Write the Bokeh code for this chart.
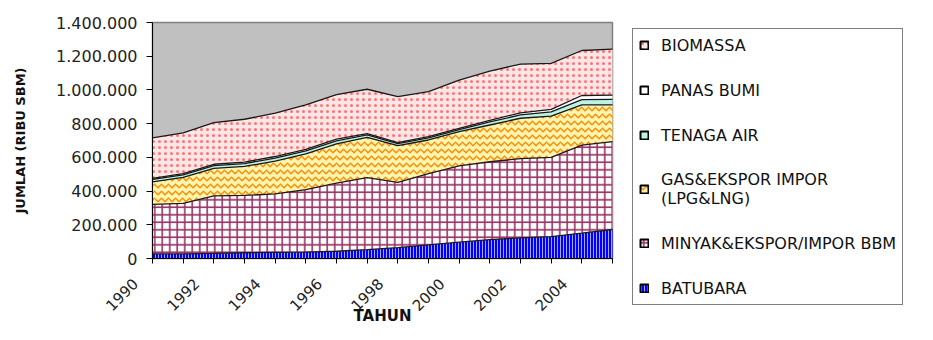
from math import pi
from bokeh.plotting import figure
from bokeh.models import ColumnDataSource, Range1d, FixedTicker, Legend, LegendItem
from bokeh.transform import stack
from bokeh.embed import file_html
from bokeh.resources import INLINE

# ---------------- data (RIBU SBM) ----------------
years = [1990, 1991, 1992, 1993, 1994, 1995, 1996, 1997,
         1998, 1999, 2000, 2001, 2002, 2003, 2004, 2005]
batubara = [27000, 28000, 30000, 34000, 36000, 38000, 43000, 53000,
            65000, 81000, 97000, 112000, 122000, 130000, 150000, 172000]
minyak = [294000, 299000, 342000, 340000, 347000, 370000, 404000, 427000,
          387000, 422000, 453000, 462000, 470000, 470000, 523000, 521000]
gas = [134000, 154000, 163000, 172000, 195000, 212000, 233000, 239000,
       217000, 200000, 202000, 218000, 240000, 245000, 238000, 218000]
tenaga_air = [14000, 15000, 16000, 17000, 18000, 18000, 18000, 15000,
              12000, 13000, 13000, 18000, 20000, 25000, 32000, 33000]
panas_bumi = [6000, 7000, 8000, 9000, 9000, 10000, 10000, 7000,
              6000, 7000, 7000, 10000, 12000, 15000, 24000, 25000]
biomassa = [240000, 242000, 247000, 254000, 257000, 264000, 264000, 263000,
            273000, 267000, 286000, 292000, 289000, 273000, 267000, 273000]

series = ["batubara", "minyak", "gas", "tenaga_air", "panas_bumi", "biomassa"]
series_labels = ["BATUBARA", "MINYAK&EKSPOR/IMPOR BBM", "GAS&EKSPOR IMPOR\n(LPG&LNG)",
                 "TENAGA AIR", "PANAS BUMI", "BIOMASSA"]
y_ticks = [0, 200000, 400000, 600000, 800000, 1000000, 1200000, 1400000]
y_tick_labels = ["0", "200.000", "400.000", "600.000", "800.000",
                 "1.000.000", "1.200.000", "1.400.000"]
x_label_years = [1990, 1992, 1994, 1996, 1998, 2000, 2002, 2004]

source = ColumnDataSource(dict(x=years, batubara=batubara, minyak=minyak, gas=gas,
                               tenaga_air=tenaga_air, panas_bumi=panas_bumi,
                               biomassa=biomassa))

styles = {
    "batubara":   dict(fill_color="#0000FF", hatch_pattern="vertical_line", hatch_color="#A8A8FF", hatch_scale=3, hatch_weight=1),
    "minyak":     dict(fill_color="#FFFFFF", hatch_pattern="cross", hatch_color="#993366", hatch_scale=7.5, hatch_weight=1.6),
    "gas":        dict(fill_color="#FFF5B0", hatch_pattern="horizontal_wave", hatch_color="#FF8A00", hatch_scale=7, hatch_weight=1.3),
    "tenaga_air": dict(fill_color="#BDF3E4", hatch_pattern=None, hatch_color="#339966", hatch_scale=6, hatch_weight=1),
    "panas_bumi": dict(fill_color="#FFFFFF", hatch_pattern=None, hatch_color="#993399", hatch_scale=6, hatch_weight=1),
    "biomassa":   dict(fill_color="#FFE6E6", hatch_pattern="dot", hatch_color="#FF7373", hatch_scale=6, hatch_weight=4),
}

# ---------------- layout geometry (pixels) ----------------
FIG_W, FIG_H = 917, 324
LEFT, TOP = 152, 22            # plot area's top-left corner on the canvas
PLOT_W, PLOT_H = 460, 236      # plot area size
x0, x1 = years[0], years[-1]
y0, y1 = y_ticks[0], y_ticks[-1]
ux = (x1 - x0) / PLOT_W        # data units per pixel
uy = (y1 - y0) / PLOT_H

p = figure(width=FIG_W, height=FIG_H, output_backend="svg", toolbar_location=None,
           x_range=Range1d(x0 - LEFT * ux, x0 + (FIG_W - LEFT) * ux),
           y_range=Range1d(y1 - (FIG_H - TOP) * uy, y1 + TOP * uy),
           min_border_left=0, min_border_right=0, min_border_top=0,
           min_border_bottom=0)
p.background_fill_color = "white"
p.border_fill_color = "white"
p.outline_line_color = None
p.xgrid.visible = False
p.ygrid.visible = False

# plot-area background (grey) with grey border
p.quad(left=[x0], right=[x1], bottom=[y0], top=[y1], fill_color="#C0C0C0",
       line_color="#808080", line_width=1.5)

for i, name in enumerate(series):
    p.varea(x="x", y1=stack(*series[:i]) if i else 0, y2=stack(*series[:i + 1]),
            source=source, **styles[name])

for i in range(len(series)):
    p.line(x="x", y=stack(*series[:i + 1]), source=source,
           line_color="#1a1a1a", line_width=1.3)

# ---------------- axes ----------------
yax = p.yaxis[0]
yax.fixed_location = x0
yax.bounds = (y0, y1)
yax.ticker = FixedTicker(ticks=y_ticks)
yax.major_label_overrides = dict(zip(y_ticks, y_tick_labels))
yax.major_label_text_font = "DejaVu Sans"
yax.major_label_text_font_size = "16px"
yax.major_label_text_color = "#222222"
yax.major_label_standoff = 9
yax.major_tick_out = 6
yax.major_tick_in = 0
yax.minor_tick_line_color = None
yax.axis_line_color = "black"
yax.major_tick_line_color = "black"
yax.axis_label = "JUMLAH (RIBU SBM)"
yax.axis_label_text_font = "DejaVu Sans"
yax.axis_label_text_font_size = "13px"
yax.axis_label_text_font_style = "bold"
yax.axis_label_text_color = "#111111"
yax.axis_label_standoff = 25

pad = "\u00a0" * 5
xax = p.xaxis[0]
xax.fixed_location = y0
xax.bounds = (x0, x1)
xax.ticker = FixedTicker(ticks=years)
xax.major_label_overrides = {y: (str(y) + pad if y in x_label_years else "") for y in years}
xax.major_label_orientation = pi / 4
xax.major_label_text_font = "DejaVu Sans"
xax.major_label_text_font_size = "15px"
xax.major_label_text_color = "#222222"
xax.major_label_standoff = 1
xax.major_tick_out = 5
xax.major_tick_in = 0
xax.minor_tick_line_color = None
xax.axis_line_color = "black"
xax.major_tick_line_color = "black"
xax.axis_label = "TAHUN"
xax.axis_label_text_font = "DejaVu Sans"
xax.axis_label_text_font_size = "15px"
xax.axis_label_text_font_style = "bold"
xax.axis_label_text_color = "#111111"
xax.axis_label_standoff = -17

# ---------------- legend ----------------
items = []
for name, lab in zip(series, series_labels):
    r = p.rect(x="x", y=name, width=1, height=1, source=source, visible=False,
               line_color="black", line_width=2, **styles[name])
    items.append(LegendItem(label=lab, renderers=[r]))
items.reverse()

legend = Legend(items=items, location=(632, 19), orientation="vertical",
                label_text_font="DejaVu Sans", label_text_font_size="16px",
                label_text_color="#111111", border_line_color="black",
                border_line_width=1, background_fill_color="white",
                background_fill_alpha=1, padding=6, spacing=25, label_height=20,
                glyph_height=10, glyph_width=10, label_standoff=12, margin=0,
                click_policy="none")
p.add_layout(legend, "center")

open("out.html", "w").write(file_html(p, INLINE))
